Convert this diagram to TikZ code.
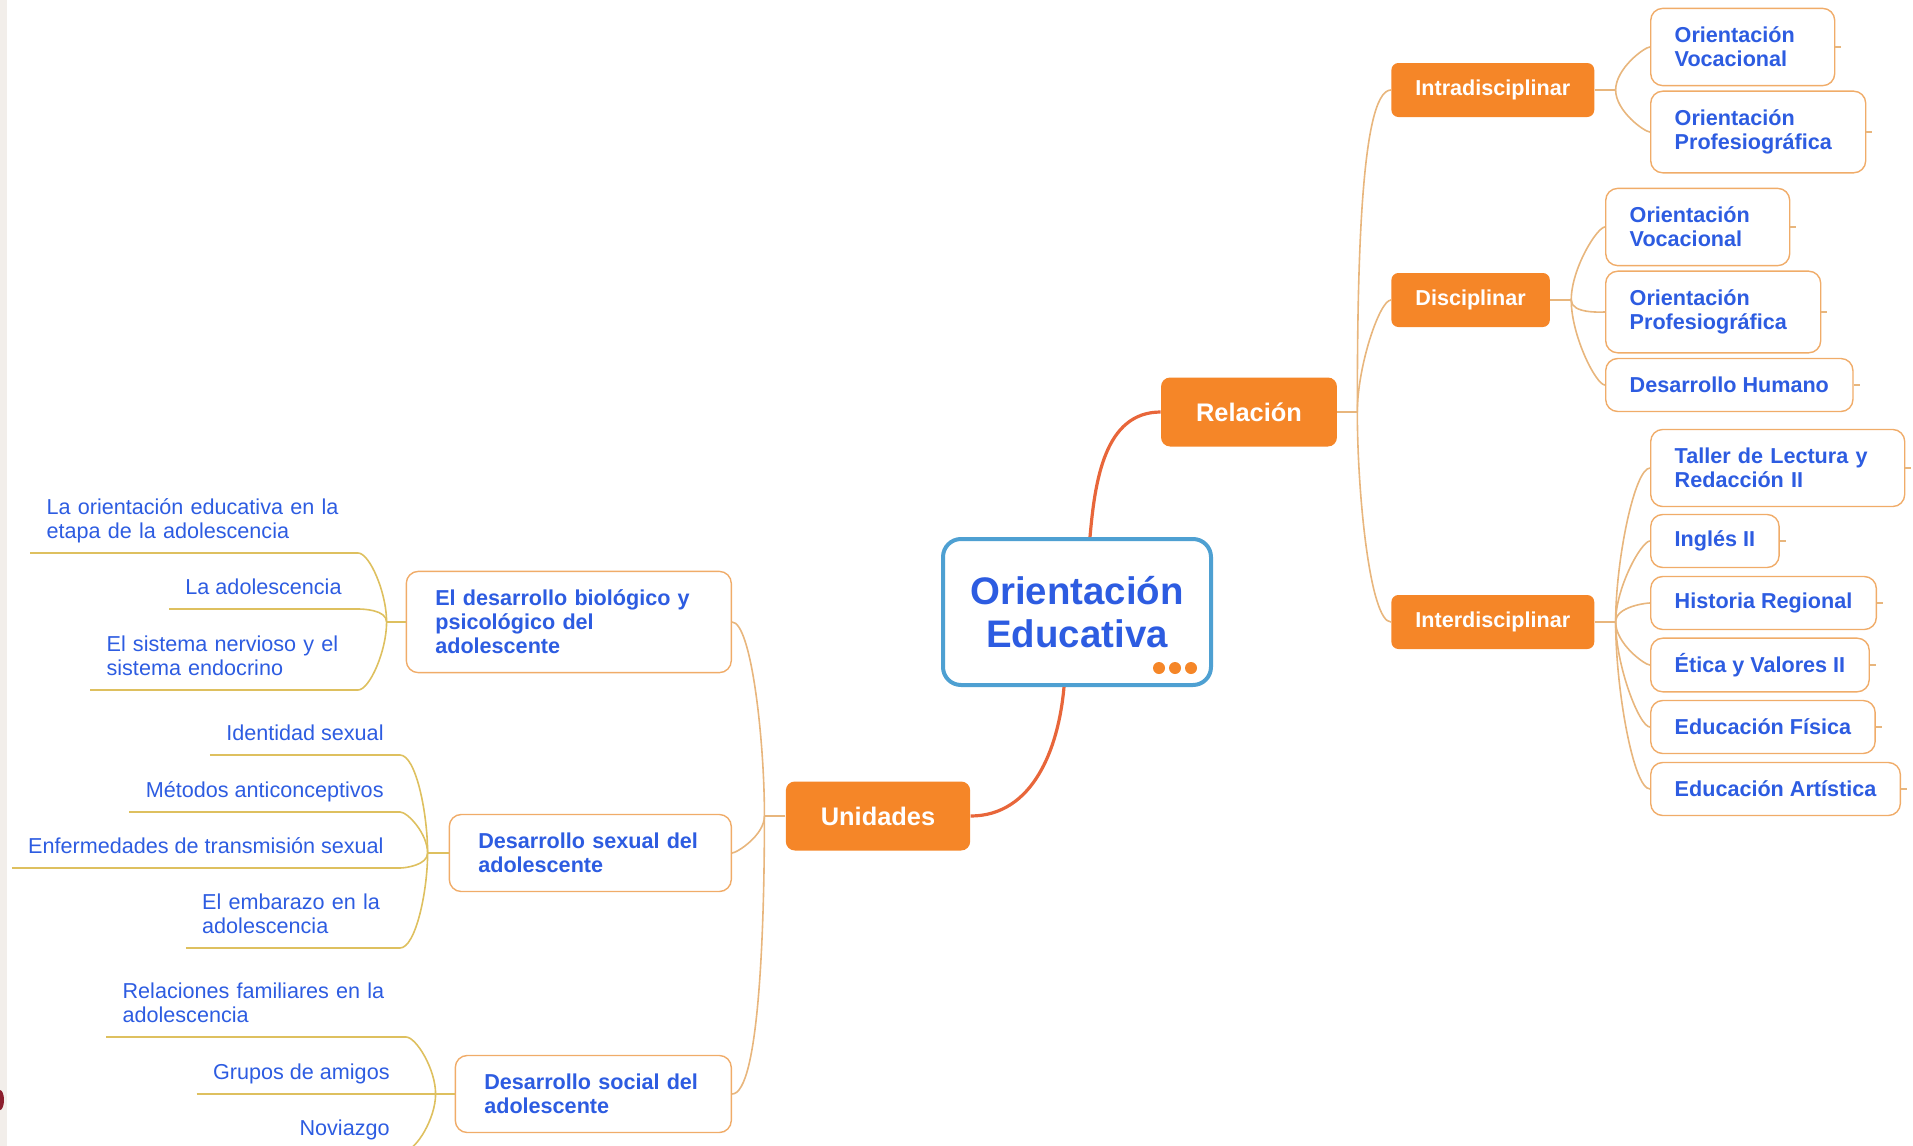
\documentclass[tikz,border=0pt]{standalone}
\usepackage{fontspec}
\setmainfont{Liberation Sans}

\definecolor{mapOrange}{RGB}{245,134,40}
\definecolor{leafBorder}{RGB}{240,172,105}
\definecolor{txtBlue}{RGB}{45,92,225}
\definecolor{cenBlue}{RGB}{78,160,210}
\definecolor{trunkRed}{RGB}{232,102,58}
\definecolor{branchTan}{RGB}{232,182,125}
\definecolor{twigGold}{RGB}{222,192,95}
\definecolor{stripGray}{RGB}{242,238,234}
\definecolor{edgeRed}{RGB}{140,30,45}

\begin{document}
\begin{tikzpicture}[x=0.5pt,y=-0.5pt,
    cenbox/.style={draw=cenBlue, line width=2pt, rounded corners=9pt, fill=white,
      minimum width=134pt, minimum height=73pt, align=center, text=txtBlue,
      font=\fontsize{19.2}{21.5}\selectfont\bfseries},
    mainbox/.style={fill=mapOrange, rounded corners=4.5pt, minimum height=34.5pt,
      inner xsep=17.5pt, text=white, font=\fontsize{12.7}{15}\selectfont\bfseries},
    subbox/.style={fill=mapOrange, rounded corners=3.5pt, minimum height=27pt,
      inner xsep=12pt, text=white, font=\fontsize{10.8}{12}\selectfont\bfseries},
    leafbox/.style={draw=leafBorder, line width=0.7pt, rounded corners=6pt, fill=white,
      minimum height=26.5pt, inner xsep=12pt, inner ysep=7.5pt, align=left,
      text=txtBlue, font=\fontsize{10.8}{12}\selectfont\bfseries},
    wrapleaf/.style={leafbox, text width=#1, inner ysep=9.3pt},
    groupbox/.style={wrapleaf=#1, inner xsep=14.5pt},
    itemtext/.style={inner xsep=8pt, inner ysep=4.8pt, text depth=2.5pt, align=left,
      text=txtBlue, font=\fontsize{10.8}{12}\selectfont},
    wrapitem/.style={itemtext, text width=#1, text depth=14.5pt},
    trunk/.style={draw=trunkRed, line width=1.6pt},
    branch/.style={draw=branchTan, line width=0.8pt, out looseness=1, in looseness=0.25},
    twig/.style={draw=twigGold, line width=0.8pt, out looseness=1, in looseness=0.4}]

  \useasboundingbox (0,0) rectangle (1913,1146);
  \fill[stripGray] (0,0) rectangle (7,1146);
  \fill[edgeRed] (0,1100) ellipse (2pt and 5pt);

  % centre
  \node[cenbox] (cen) at (1077,612) {Orientación\\Educativa};
  \foreach \dx in {1159,1175,1191}
    \fill[mapOrange] (\dx,668) circle (3pt);

  \node[mainbox] (rel) at (1249,412) {Relación};
  \node[mainbox] (uni) at (878,816) {Unidades};

  \draw[trunk] ([xshift=6.5pt]cen.north) to[out=85,in=180] (rel.west);
  \draw[trunk] ([xshift=-6.5pt]cen.south) to[out=-95,in=0] (uni.east);

  % Relacion side
  \node[subbox, anchor=west] (intra) at (1391,90) {Intradisciplinar};
  \node[subbox, anchor=west] (disc) at (1391,300) {Disciplinar};
  \node[subbox, anchor=west] (inter) at (1391,622) {Interdisciplinar};

  \node[wrapleaf=68pt, anchor=west] (intraVoc) at (1650,47) {Orientación\\Vocacional};
  \node[wrapleaf=83.5pt, anchor=west] (intraProf) at (1650,132) {Orientación\\Profesiográfica};
  \node[wrapleaf=68pt, anchor=west] (discVoc) at (1605,227) {Orientación\\Vocacional};
  \node[wrapleaf=83.5pt, anchor=west] (discProf) at (1605,312) {Orientación\\Profesiográfica};
  \node[leafbox, anchor=west] (discHum) at (1605,385) {Desarrollo Humano};
  \node[wrapleaf=103pt, anchor=west] (interTaller) at (1650,468) {Taller de Lectura y\\Redacción II};
  \node[leafbox, anchor=west] (interIngles) at (1650,541) {Inglés II};
  \node[leafbox, anchor=west] (interHist) at (1650,603) {Historia Regional};
  \node[leafbox, anchor=west] (interEtica) at (1650,665) {Ética y Valores II};
  \node[leafbox, anchor=west] (interFis) at (1650,727) {Educación Física};
  \node[leafbox, anchor=west] (interArt) at (1650,789) {Educación Artística};

  \coordinate (relJ) at ([xshift=10pt]rel.east);
  \coordinate (intraJ) at ([xshift=10.5pt]intra.east);
  \coordinate (discJ) at ([xshift=10.5pt]disc.east);
  \coordinate (interJ) at ([xshift=10.5pt]inter.east);

  \draw[branch] (rel.east) -- (relJ);
  \draw[branch] (relJ) to[out=90,in=180] (intra.west);
  \draw[branch] (relJ) to[out=90,in=180] (disc.west);
  \draw[branch] (relJ) to[out=-90,in=180] (inter.west);

  \draw[branch] (intra.east) -- (intraJ);
  \draw[branch] (intraJ) to[out=90,in=180] (intraVoc.west);
  \draw[branch] (intraJ) to[out=-90,in=180] (intraProf.west);

  \draw[branch] (disc.east) -- (discJ);
  \draw[branch] (discJ) to[out=90,in=180] (discVoc.west);
  \draw[branch] (discJ) to[out=-90,in=180] (discProf.west);
  \draw[branch] (discJ) to[out=-90,in=180] (discHum.west);

  \draw[branch] (inter.east) -- (interJ);
  \foreach \c in {interTaller,interIngles,interHist}
    \draw[branch] (interJ) to[out=90,in=180] (\c.west);
  \foreach \c in {interEtica,interFis,interArt}
    \draw[branch] (interJ) to[out=-90,in=180] (\c.west);

  \foreach \c in {intraVoc,intraProf,discVoc,discProf,discHum,interTaller,
                  interIngles,interHist,interEtica,interFis,interArt}
    \draw[branch] (\c.east) -- ++(3pt,0);

  % Unidades side
  \node[groupbox=133.5pt, anchor=east] (biol) at (732,622) {El desarrollo biológico y\\psicológico del\\adolescente};
  \node[groupbox=112pt, anchor=east] (sexual) at (732,853) {Desarrollo sexual del\\adolescente};
  \node[groupbox=109pt, anchor=east] (social) at (732,1094) {Desarrollo social del\\adolescente};

  \node[wrapitem=147.5pt, anchor=south east] (biolA) at (358,553) {La orientación educativa en la\\etapa de la adolescencia};
  \node[itemtext, anchor=south east] (biolB) at (358,609) {La adolescencia};
  \node[wrapitem=117.5pt, anchor=south east] (biolC) at (358,690) {El sistema nervioso y el\\sistema endocrino};
  \node[itemtext, anchor=south east] (sexA) at (400,755) {Identidad sexual};
  \node[itemtext, anchor=south east] (sexB) at (400,812) {Métodos anticonceptivos};
  \node[itemtext, anchor=south east] (sexC) at (400,868) {Enfermedades de transmisión sexual};
  \node[wrapitem=90.7pt, anchor=south east] (sexD) at (400,948) {El embarazo en la\\adolescencia};
  \node[wrapitem=133.5pt, anchor=south east] (socA) at (406,1037) {Relaciones familiares en la\\adolescencia};
  \node[itemtext, anchor=south east] (socB) at (406,1094) {Grupos de amigos};
  \node[itemtext, anchor=south east] (socC) at (406,1150) {Noviazgo};

  \foreach \n in {biolA,biolB,biolC,sexA,sexB,sexC,sexD,socA,socB,socC}
    \draw[twig] (\n.south west) -- (\n.south east);

  \coordinate (uniJ) at ([xshift=-10.5pt]uni.west);
  \coordinate (biolJ) at ([xshift=-9.5pt]biol.west);
  \coordinate (sexJ) at ([xshift=-10.5pt]sexual.west);
  \coordinate (socJ) at ([xshift=-9.5pt]social.west);

  \draw[branch] (uni.west) -- (uniJ);
  \draw[branch] (uniJ) to[out=90,in=0] (biol.east);
  \draw[branch] (uniJ) to[out=-90,in=0] (sexual.east);
  \draw[branch] (uniJ) to[out=-90,in=0] (social.east);

  \draw[twig] (biol.west) -- (biolJ);
  \foreach \c in {biolA,biolB}
    \draw[twig] (biolJ) to[out=90,in=0] (\c.south east);
  \draw[twig] (biolJ) to[out=-90,in=0] (biolC.south east);

  \draw[twig] (sexual.west) -- (sexJ);
  \foreach \c in {sexA,sexB}
    \draw[twig] (sexJ) to[out=90,in=0] (\c.south east);
  \foreach \c in {sexC,sexD}
    \draw[twig] (sexJ) to[out=-90,in=0] (\c.south east);

  \draw[twig] (social.west) -- (socJ);
  \draw[twig] (socJ) to[out=90,in=0] (socA.south east);
  \draw[twig] (socJ) -- (socB.south east);
  \draw[twig] (socJ) to[out=-90,in=0] (socC.south east);
\end{tikzpicture}
\end{document}
